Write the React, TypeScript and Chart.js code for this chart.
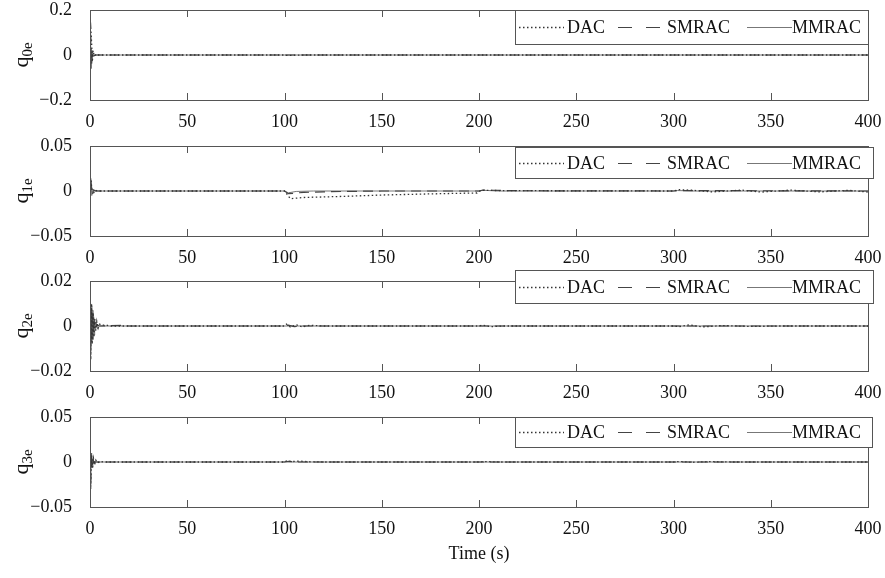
import React, { useEffect, useRef } from "react";
import { Chart, registerables } from "chart.js";

Chart.register(...registerables);

type Pt = [number, number];

// ---------- data ----------
const X_TICKS = [0, 50, 100, 150, 200, 250, 300, 350, 400];
const SERIES_NAMES = ["DAC", "SMRAC", "MMRAC"];
const Y_LABEL_SUBS = ["0e", "1e", "2e", "3e"];
const Y_TICKS_0 = [-0.2, 0, 0.2];
const Y_TICKS_1 = [-0.05, 0, 0.05];
const Y_TICKS_2 = [-0.02, 0, 0.02];
const Y_TICKS_3 = [-0.05, 0, 0.05];

const q0eDAC: Pt[] = [[0, 0.1], [0.4, 0.12], [0.8, 0.06], [1.2, -0.03], [1.6, 0.02], [2.2, -0.005], [3, 0.003], [4, 0], [100, 0], [101, -0.002], [110, 0], [400, 0]];
const q0eSMRAC: Pt[] = [[0, 0.1], [0.4, 0.08], [0.8, -0.04], [1.3, 0.015], [2, -0.004], [3, 0], [400, 0]];
const q0eMMRAC: Pt[] = [[0, 0.1], [0.3, 0.05], [0.7, -0.06], [1.1, 0.02], [1.6, -0.005], [2.5, 0], [400, 0]];

const q1eDAC: Pt[] = [[0, 0.008], [0.5, 0.012], [1, 0.002], [1.6, -0.004], [2.5, 0.001], [4, 0], [100, 0], [103, -0.0085], [110, -0.0072], [130, -0.006], [150, -0.0045], [175, -0.0032], [199, -0.0022], [201, 0.0008], [210, 0.0005], [250, 0.0002], [300, 0], [303, 0.0015], [310, 0.0008], [320, -0.001], [335, 0.001], [345, -0.0012], [360, 0.001], [375, -0.001], [390, 0.0008], [400, -0.0012]];
const q1eSMRAC: Pt[] = [[0, 0.008], [0.5, 0.01], [1.2, -0.003], [2, 0.001], [3, 0], [100, 0], [102, -0.003], [110, -0.0015], [120, -0.001], [130, -0.0005], [150, 0], [200, 0], [202, 0.001], [220, 0.0003], [300, 0], [303, 0.0005], [400, 0]];
const q1eMMRAC: Pt[] = [[0, 0.008], [0.4, 0.014], [0.9, -0.005], [1.5, 0.002], [2.5, 0], [100, 0], [102, -0.002], [106, -0.0005], [115, 0], [200, 0], [202, 0.0008], [210, 0], [300, 0], [302, 0.0005], [310, 0], [400, 0]];

const q2eDAC: Pt[] = [[0, 0.009], [0.4, -0.015], [0.8, 0.01], [1.2, -0.008], [1.6, 0.006], [2, -0.005], [2.5, 0.003], [3, -0.002], [3.5, 0.002], [4.2, -0.001], [5, 0.0008], [6, 0.0003], [8, 0.0005], [10, 0], [100, 0], [101, 0.0008], [103, -0.0005], [106, 0.0006], [109, -0.0004], [113, 0.0003], [120, 0], [200, 0], [202, 0.0004], [206, -0.0003], [212, 0], [300, 0], [303, -0.0003], [308, 0.0005], [315, -0.0004], [325, 0.0002], [340, -0.0002], [355, 0], [400, 0]];
const q2eSMRAC: Pt[] = [[0, 0.008], [0.35, -0.01], [0.7, 0.008], [1.05, -0.006], [1.4, 0.005], [1.8, -0.003], [2.2, 0.002], [2.8, -0.001], [3.5, 0.0006], [4.5, 0], [16, 0.0003], [20, 0], [100, 0], [102, 0.0004], [105, -0.0003], [110, 0], [400, 0]];
const q2eMMRAC: Pt[] = [[0, 0.01], [0.3, -0.012], [0.6, 0.009], [0.9, -0.008], [1.2, 0.007], [1.5, -0.006], [1.8, 0.005], [2.1, -0.004], [2.4, 0.003], [2.8, -0.002], [3.2, 0.0015], [3.6, -0.001], [4, 0.0005], [5, 0], [400, 0]];

const q3eDAC: Pt[] = [[0, 0.012], [0.4, -0.03], [0.8, 0.01], [1.3, -0.006], [1.8, 0.004], [2.4, -0.003], [3, 0.002], [3.8, -0.001], [5, 0.0005], [7, 0], [100, 0], [101, 0.0012], [104, 0.0005], [108, 0.001], [112, 0.0003], [120, 0], [200, 0], [203, 0.0005], [210, 0], [300, 0], [303, 0.0005], [310, -0.0003], [318, 0.0004], [330, 0], [400, 0]];
const q3eSMRAC: Pt[] = [[0, 0.01], [0.35, -0.025], [0.75, 0.009], [1.2, -0.005], [1.7, 0.002], [2.3, -0.001], [3, 0], [100, 0], [102, 0.0008], [106, 0], [400, 0]];
const q3eMMRAC: Pt[] = [[0, 0.01], [0.3, -0.02], [0.7, 0.008], [1.1, -0.006], [1.5, 0.003], [2, -0.002], [2.6, 0.001], [3.5, 0], [400, 0]];

// ---------- layout / style ----------
const FONT = "'Liberation Serif', 'DejaVu Serif', serif";
const TXT = "#111";
const AXIS = "#555";
const PLOT_TOPS = [10, 146, 281, 417];
const PLOT_H = 90;
const PAD_TOP = 14;
const LEFT_W = 90;
const RIGHT_PAD = 17;
const W = 885;
const LEGEND_BOXES = [
  { dy: 0, h: 34, right: 0 },
  { dy: 1, h: 31, right: 5 },
  { dy: -11, h: 33, right: 5 },
  { dy: 0, h: 30, right: 4 },
];

const STYLES = [
  { color: "#333", width: 1.3, dash: [1.5, 2.5] },
  { color: "#444", width: 1.2, dash: [10, 6] },
  { color: "#777", width: 1, dash: [] as number[] },
];

const PANELS = [
  { series: [q0eDAC, q0eSMRAC, q0eMMRAC], ticks: Y_TICKS_0 },
  { series: [q1eDAC, q1eSMRAC, q1eMMRAC], ticks: Y_TICKS_1 },
  { series: [q2eDAC, q2eSMRAC, q2eMMRAC], ticks: Y_TICKS_2 },
  { series: [q3eDAC, q3eSMRAC, q3eMMRAC], ticks: Y_TICKS_3 },
];

const fmt = (v: number) => {
  if (Math.abs(v) < 1e-12) return "0";
  const s = String(Math.abs(v));
  return v < 0 ? "\u2212" + s : s;
};

const zeroPad = (s: any) => {
  s.paddingLeft = 0;
  s.paddingRight = 0;
  s.paddingTop = 0;
  s.paddingBottom = 0;
};

const framePlugin = {
  id: "frame",
  afterDatasetsDraw(chart: any) {
    const { ctx, chartArea: a, scales } = chart;
    ctx.save();
    ctx.strokeStyle = AXIS;
    ctx.lineWidth = 1;
    ctx.strokeRect(Math.round(a.left) + 0.5, Math.round(a.top) + 0.5, Math.round(a.right - a.left), Math.round(a.bottom - a.top));
    for (const v of X_TICKS) {
      if (v <= 0 || v >= 400) continue;
      const x = Math.round(scales.x.getPixelForValue(v)) + 0.5;
      ctx.beginPath();
      ctx.moveTo(x, a.top);
      ctx.lineTo(x, a.top + 7);
      ctx.moveTo(x, a.bottom);
      ctx.lineTo(x, a.bottom - 7);
      ctx.stroke();
    }
    ctx.restore();
  },
};

const yTitlePlugin = {
  id: "yTitle",
  afterDraw(chart: any, _args: any, opts: any) {
    const { ctx, chartArea: a } = chart;
    ctx.save();
    ctx.translate(28, (a.top + a.bottom) / 2);
    ctx.rotate(-Math.PI / 2);
    ctx.fillStyle = TXT;
    ctx.textBaseline = "alphabetic";
    ctx.font = `22px ${FONT}`;
    const wq = ctx.measureText("q").width;
    ctx.font = `15px ${FONT}`;
    const ws = ctx.measureText(opts.sub).width;
    const x0 = -(wq + ws) / 2;
    ctx.font = `22px ${FONT}`;
    ctx.fillText("q", x0, 0);
    ctx.font = `15px ${FONT}`;
    ctx.fillText(opts.sub, x0 + wq, 4);
    ctx.restore();
  },
};

const legendPlugin = {
  id: "boxLegend",
  afterDraw(chart: any, _args: any, opts: any) {
    const { ctx, chartArea: a } = chart;
    const left = 515;
    const right = a.right + opts.right;
    const top = a.top + opts.dy;
    const h = opts.h;
    ctx.save();
    ctx.fillStyle = "#fff";
    ctx.fillRect(left, top, right - left, h);
    ctx.strokeStyle = AXIS;
    ctx.lineWidth = 1;
    ctx.strokeRect(left + 0.5, Math.round(top) + 0.5, right - left, h);
    const cy = Math.round(top + h / 2) + 0.5;
    const items = [
      { x0: 519, x1: 564, tx: 567 },
      { x0: 618, x1: 662, tx: 667 },
      { x0: 747, x1: 792, tx: 792 },
    ];
    ctx.font = `18px ${FONT}`;
    ctx.textBaseline = "middle";
    chart.data.datasets.forEach((ds: any, i: number) => {
      const it = items[i];
      ctx.strokeStyle = ds.borderColor;
      ctx.lineWidth = ds.borderWidth;
      ctx.setLineDash(i === 1 ? [14, 14] : ds.borderDash || []);
      ctx.beginPath();
      ctx.moveTo(it.x0, cy);
      ctx.lineTo(it.x1, cy);
      ctx.stroke();
      ctx.setLineDash([]);
      ctx.fillStyle = TXT;
      ctx.fillText(ds.label, it.tx, cy + 1);
    });
    ctx.restore();
  },
};

function Panel({ idx }: { idx: number }) {
  const ref = useRef<HTMLCanvasElement>(null);
  const last = idx === PANELS.length - 1;
  const xh = last ? 58 : 32;
  const height = PAD_TOP + PLOT_H + xh;
  useEffect(() => {
    const p = PANELS[idx];
    const chart = new Chart(ref.current!, {
      type: "line",
      data: {
        datasets: p.series.map((s, i) => ({
          label: SERIES_NAMES[i],
          data: s.map(([x, y]) => ({ x, y })),
          borderColor: STYLES[i].color,
          borderWidth: STYLES[i].width,
          borderDash: STYLES[i].dash,
          pointRadius: 0,
          tension: 0,
          fill: false,
        })),
      },
      options: {
        responsive: false,
        animation: false,
        events: [],
        layout: { padding: { top: PAD_TOP, right: RIGHT_PAD, left: 0, bottom: 0 } },
        scales: {
          x: {
            type: "linear",
            min: 0,
            max: 400,
            grid: { display: false },
            border: { display: false },
            afterBuildTicks: (s: any) => {
              s.ticks = X_TICKS.map((v) => ({ value: v }));
            },
            afterFit: (s: any) => {
              s.height = xh;
              zeroPad(s);
            },
            ticks: {
              autoSkip: false,
              maxRotation: 0,
              padding: 3,
              color: TXT,
              font: { family: FONT, size: 18 },
              callback: (v: any) => String(v),
            },
            title: {
              display: last,
              text: "Time (s)",
              color: TXT,
              font: { family: FONT, size: 18 },
              padding: { top: 0, bottom: 0 },
            },
          },
          y: {
            type: "linear",
            min: p.ticks[0],
            max: p.ticks[p.ticks.length - 1],
            grid: { display: false },
            border: { display: false },
            afterBuildTicks: (s: any) => {
              s.ticks = p.ticks.map((v) => ({ value: v }));
            },
            afterFit: (s: any) => {
              s.width = LEFT_W;
              zeroPad(s);
            },
            ticks: {
              padding: 10,
              color: TXT,
              font: { family: FONT, size: 18 },
              callback: (v: any) => fmt(Number(v)),
            },
          },
        },
        plugins: {
          legend: { display: false },
          tooltip: { enabled: false },
          yTitle: { sub: Y_LABEL_SUBS[idx] },
          boxLegend: LEGEND_BOXES[idx],
        } as any,
      },
      plugins: [framePlugin, yTitlePlugin, legendPlugin],
    } as any);
    return () => chart.destroy();
  }, [idx]);
  return (
    <canvas
      ref={ref}
      width={W}
      height={height}
      style={{ position: "absolute", left: 0, top: PLOT_TOPS[idx] - PAD_TOP, width: W, height }}
    />
  );
}

export default function App() {
  return (
    <div style={{ position: "absolute", left: 0, top: 0, width: W, height: 578, background: "#fff" }}>
      {PANELS.map((_, i) => (
        <Panel key={i} idx={i} />
      ))}
    </div>
  );
}
